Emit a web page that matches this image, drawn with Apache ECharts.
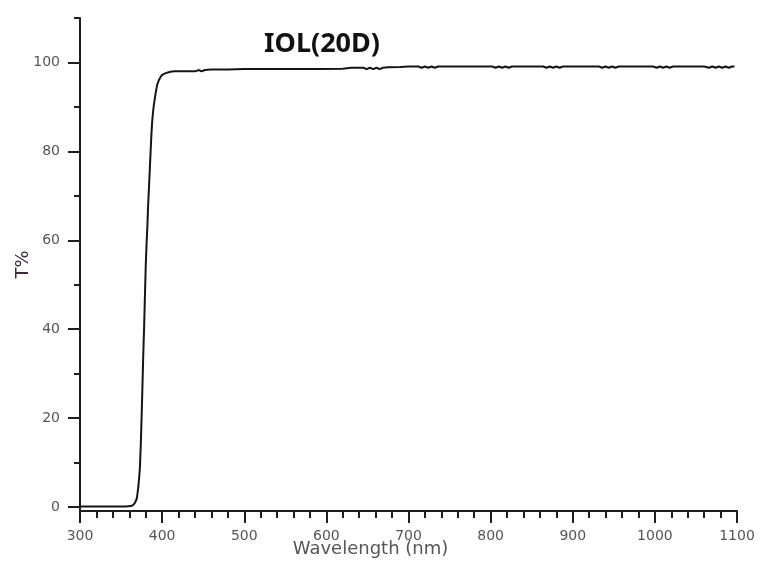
<!DOCTYPE html>
<html>
<head>
<meta charset="utf-8">
<script src="https://cdn.jsdelivr.net/npm/echarts@6/dist/echarts.min.js"></script>
<style>html,body{margin:0;padding:0;background:#fff;}#c{width:765px;height:574px;}</style>
</head>
<body>
<div id="c"></div>
<script>
const titleText = 'IOL(20D)';
const xName = 'Wavelength (nm)';
const yName = 'T%';
const yMajorTicks = [0, 20, 40, 60, 80, 100];
const yMinorTicks = [10, 30, 50, 70, 90, 110];
const wavelength = [300, 320, 340, 355, 362, 365, 367, 369, 370, 371, 372, 373, 374, 375, 376, 377, 378, 379, 380, 381, 382, 383, 384, 385, 386, 387, 388, 389, 390, 392, 394, 396, 398, 400, 403, 406, 410, 415, 420, 430, 440, 445, 448, 452, 460, 480, 500, 530, 560, 590, 620, 630, 640, 645, 649, 653, 657, 661, 665, 669, 675, 690, 700, 712, 716, 720, 724, 728, 732, 736, 740, 760, 790, 802, 806, 810, 814, 818, 822, 826, 830, 850, 864, 868, 872, 876, 880, 884, 888, 892, 910, 932, 936, 940, 944, 948, 952, 956, 980, 998, 1002, 1006, 1010, 1014, 1018, 1022, 1040, 1060, 1066, 1070, 1074, 1078, 1082, 1086, 1090, 1094, 1097];
const transmittance = [0.1, 0.1, 0.1, 0.1, 0.2, 0.5, 1.0, 1.8, 3.0, 4.5, 6.5, 9, 14, 20, 27, 34, 40, 47, 54, 59, 63, 68, 72, 76, 80, 84, 87, 89, 90.5, 93, 95, 96, 96.7, 97.2, 97.5, 97.7, 97.9, 98, 98, 98, 98, 98.3, 98.0, 98.3, 98.4, 98.4, 98.5, 98.5, 98.5, 98.5, 98.6, 98.8, 98.8, 98.8, 98.5, 98.8, 98.5, 98.8, 98.5, 98.8, 98.9, 99, 99.1, 99.1, 98.8, 99.1, 98.8, 99.1, 98.8, 99.1, 99.1, 99.1, 99.1, 99.1, 98.8, 99.1, 98.8, 99.1, 98.8, 99.1, 99.1, 99.1, 99.1, 98.8, 99.1, 98.8, 99.1, 98.8, 99.1, 99.1, 99.1, 99.1, 98.8, 99.1, 98.8, 99.1, 98.8, 99.1, 99.1, 99.1, 98.8, 99.1, 98.8, 99.1, 98.8, 99.1, 99.1, 99.1, 98.8, 99.1, 98.8, 99.1, 98.8, 99.1, 98.8, 99.1, 99.1];

const seriesData = wavelength.map((w, i) => [w, transmittance[i]]);
const axisColor = '#1e1e1e';
const labelColor = '#555';

const chart = echarts.init(document.getElementById('c'), null, {renderer: 'canvas'});
chart.setOption({
  animation: false,
  backgroundColor: '#fff',
  title: {
    text: titleText,
    left: 317, top: 26, textAlign: 'center',
    textStyle: {fontFamily: 'Noto Sans', fontWeight: 'bold', fontSize: 27, color: '#111'}
  },
  grid: {left: 80, right: 28, top: 18, bottom: 63, containLabel: false, outerBoundsMode: 'none'},
  xAxis: {
    type: 'value', min: 300, max: 1100, interval: 100,
    name: xName, nameLocation: 'middle', nameGap: 29, nameMoveOverlap: false,
    nameTextStyle: {fontFamily: 'DejaVu Sans', fontSize: 18, color: '#555', padding: [0, 76, 0, 0]},
    axisLine: {show: true, onZero: false, lineStyle: {color: axisColor, width: 2}},
    axisTick: {show: true, inside: false, length: 12, lineStyle: {color: axisColor, width: 2}},
    minorTick: {show: true, splitNumber: 5, length: 7, lineStyle: {color: axisColor, width: 2}},
    axisLabel: {margin: 18, fontFamily: 'DejaVu Sans', fontSize: 14, color: labelColor, formatter: v => String(v)},
    splitLine: {show: false}
  },
  yAxis: [{
    type: 'value', min: -0.9, max: 110,
    name: yName, nameLocation: 'middle', nameGap: 48, nameMoveOverlap: false,
    nameTextStyle: {fontFamily: 'DejaVu Sans', fontSize: 18, color: '#3d2a3d'},
    axisLine: {show: true, onZero: false, lineStyle: {color: axisColor, width: 2}},
    axisTick: {show: true, inside: false, length: 12, customValues: yMajorTicks, lineStyle: {color: axisColor, width: 2}},
    axisLabel: {margin: 20, customValues: yMajorTicks, fontFamily: 'DejaVu Sans', fontSize: 14, color: labelColor, formatter: v => String(v)},
    splitLine: {show: false}
  }, {
    type: 'value', min: -0.9, max: 110, position: 'left',
    axisLine: {show: false},
    axisTick: {show: true, inside: false, length: 6, customValues: yMinorTicks, lineStyle: {color: axisColor, width: 2}},
    axisLabel: {show: false},
    splitLine: {show: false}
  }],
  series: [{
    type: 'line', data: seriesData, yAxisIndex: 0,
    showSymbol: false, smooth: false,
    lineStyle: {color: '#151515', width: 2}
  }]
});
</script>
</body>
</html>
